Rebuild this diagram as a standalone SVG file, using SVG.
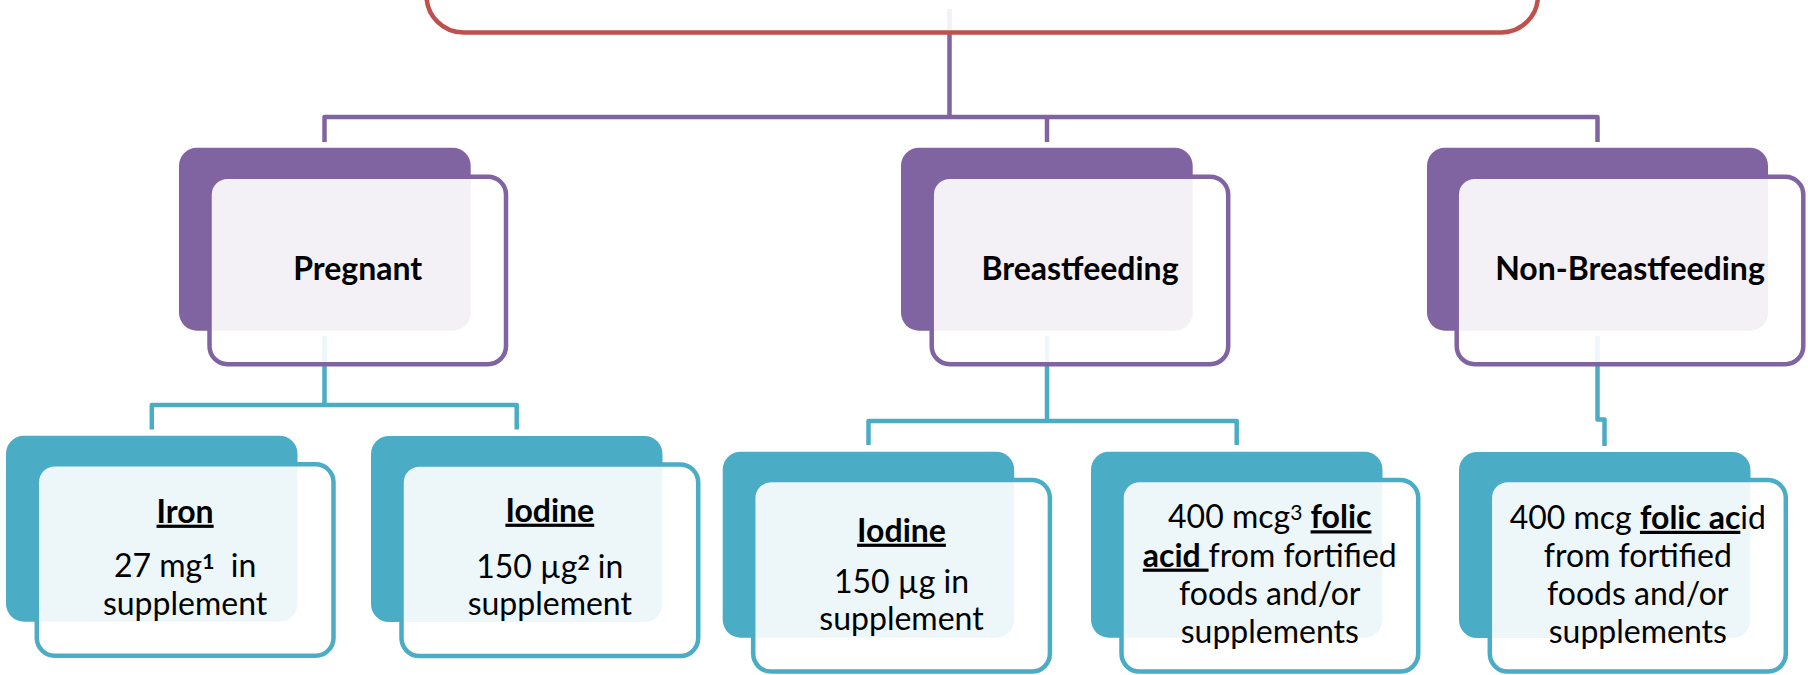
<svg xmlns="http://www.w3.org/2000/svg" width="1808" height="675" viewBox="0 0 1808 675">
<style>
.dk2{fill:#8064A2}
.fr2{fill:#fff;fill-opacity:.9;stroke:#8064A2;stroke-width:4.5}
.dk3{fill:#4BACC6}
.fr3{fill:#fff;fill-opacity:.9;stroke:#4BACC6;stroke-width:4.5}
.cp{fill:none;stroke:#8064A2;stroke-width:4.5;stroke-linejoin:round}
.cc{fill:none;stroke:#4BACC6;stroke-width:4.5;stroke-linejoin:round}
.top{fill:#fff;fill-opacity:.9;stroke:#C0504D;stroke-width:4.5}
text{font-family:Lato,"Liberation Sans",sans-serif;fill:#000;text-anchor:middle;white-space:pre}
.t2{font-weight:bold;font-size:32px}
.t3{font-size:32px}
.b{font-weight:bold;text-decoration:underline}
.sup{font-size:21px;baseline-shift:38%}
.supb{font-size:21px;baseline-shift:38%;font-weight:bold}
</style>
<g id="connectors">
<path class="cp" d="M949.5 9V117M324.5 142V117H1597.5V142M1047 117V142"/>
<path class="cc" d="M324.5 336V405M151.8 429.5V405H516.7V429.5"/>
<path class="cc" d="M1047 336V421M868.5 445V421H1236.7V445"/>
<path class="cc" d="M1597.5 336V419.5H1604.5V446"/>
</g>
<g id="top">
<rect class="top" x="426.5" y="-80" width="1111.5" height="112.5" rx="37"/>
</g>
<g id="pregnant">
<rect class="dk2" x="179" y="147.7" width="291.7" height="183" rx="18"/>
<rect class="fr2" x="209.5" y="176.7" width="296.5" height="187.5" rx="18"/>
<text class="t2" x="357.7" y="280">Pregnant</text>
</g>
<g id="breastfeeding">
<rect class="dk2" x="901" y="147.7" width="291.7" height="183" rx="18"/>
<rect class="fr2" x="931.7" y="176.7" width="296.5" height="187.5" rx="18"/>
<text class="t2" x="1080" y="280">Breastfeeding</text>
</g>
<g id="nonbreastfeeding">
<rect class="dk2" x="1427" y="147.7" width="341" height="183" rx="18"/>
<rect class="fr2" x="1456.7" y="176.7" width="346.6" height="187.5" rx="18"/>
<text class="t2" x="1630" y="280">Non-Breastfeeding</text>
</g>
<g id="iron">
<rect class="dk3" x="6" y="435.7" width="291.5" height="186" rx="18"/>
<rect class="fr3" x="36.8" y="464.2" width="296.7" height="191.6" rx="18"/>
<text class="t3" x="185.1" y="522.7"><tspan class="b">Iron</tspan></text>
<text class="t3" x="185.1" y="576.7">27 mg<tspan class="supb">1</tspan>  in</text>
<text class="t3" x="185.1" y="615">supplement</text>
</g>
<g id="iodine-pregnant">
<rect class="dk3" x="371" y="436" width="291.5" height="186" rx="18"/>
<rect class="fr3" x="401.5" y="464.5" width="296.7" height="191.6" rx="18"/>
<text class="t3" x="549.8" y="521.7"><tspan class="b">Iodine</tspan></text>
<text class="t3" x="549.8" y="577.7">150 µg<tspan class="supb">2</tspan> in</text>
<text class="t3" x="549.8" y="615">supplement</text>
</g>
<g id="iodine-breastfeeding">
<rect class="dk3" x="722.7" y="451.7" width="291.5" height="186" rx="18"/>
<rect class="fr3" x="753.2" y="480" width="296.7" height="191.6" rx="18"/>
<text class="t3" x="901.5" y="541.7"><tspan class="b">Iodine</tspan></text>
<text class="t3" x="901.5" y="592.7">150 µg in</text>
<text class="t3" x="901.5" y="630">supplement</text>
</g>
<g id="folic-breastfeeding">
<rect class="dk3" x="1091" y="451.7" width="291.5" height="186" rx="18"/>
<rect class="fr3" x="1121.5" y="480" width="296.7" height="191.6" rx="18"/>
<text class="t3" x="1269.8" y="528.3">400 mcg<tspan class="sup">3</tspan> <tspan class="b">folic</tspan></text>
<text class="t3" x="1269.8" y="566.6"><tspan class="b">acid </tspan>from fortified</text>
<text class="t3" x="1269.8" y="604.9">foods and/or</text>
<text class="t3" x="1269.8" y="643.2">supplements</text>
</g>
<g id="folic-nonbreastfeeding">
<rect class="dk3" x="1459" y="452" width="291.5" height="186" rx="18"/>
<rect class="fr3" x="1489.8" y="480" width="296" height="191.6" rx="18"/>
<text class="t3" x="1637.8" y="528.8">400 mcg <tspan class="b">folic ac</tspan>id</text>
<text class="t3" x="1637.8" y="566.6">from fortified</text>
<text class="t3" x="1637.8" y="604.6">foods and/or</text>
<text class="t3" x="1637.8" y="642.6">supplements</text>
</g>
</svg>
